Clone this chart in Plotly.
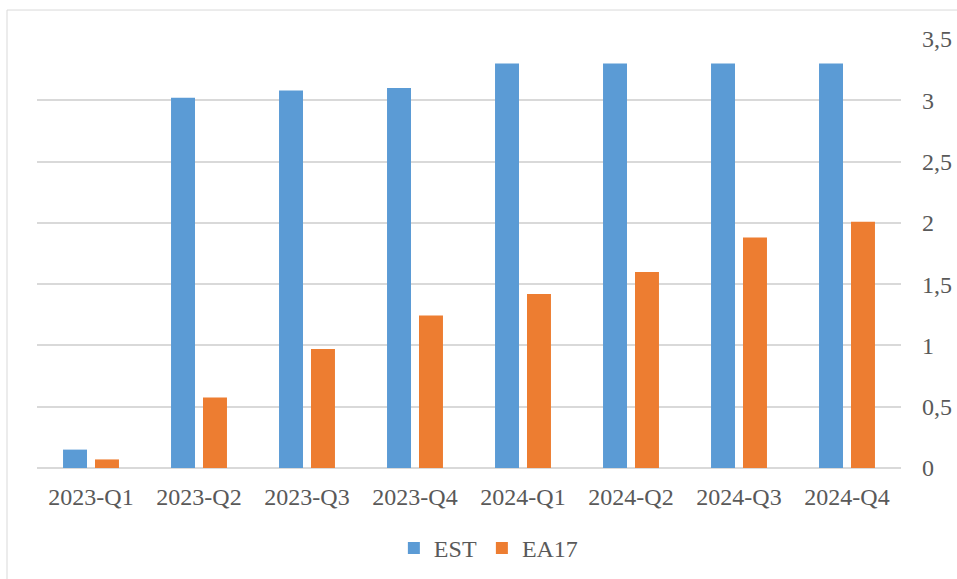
import plotly.graph_objects as go

# Quarterly values for Estonia and the euro area (EA17)
quarters = ["2023-Q1", "2023-Q2", "2023-Q3", "2023-Q4",
            "2024-Q1", "2024-Q2", "2024-Q3", "2024-Q4"]
est_values = [0.15, 3.02, 3.08, 3.10, 3.30, 3.30, 3.30, 3.30]
ea17_values = [0.07, 0.575, 0.97, 1.245, 1.42, 1.60, 1.88, 2.01]

BLUE = "#5B9BD5"
ORANGE = "#ED7D31"
TEXT = "#595959"
GRID = "#D9D9D9"
FONT = "Liberation Serif, Times New Roman, serif"

fig = go.Figure()
fig.add_trace(go.Bar(x=quarters, y=est_values, name="EST",
                     marker=dict(color=BLUE, line=dict(width=0)),
                     width=0.222, offset=-0.259))
fig.add_trace(go.Bar(x=quarters, y=ea17_values, name="EA17",
                     marker=dict(color=ORANGE, line=dict(width=0)),
                     width=0.222, offset=0.037))

# Outer frame of the chart area
fig.add_shape(type="rect", xref="paper", yref="paper",
              x0=(7 - 37) / 864, x1=(965 - 37) / 864,
              y0=(468.5 - 590) / 429.5, y1=(468.5 - 10) / 429.5,
              line=dict(color=GRID, width=1), fillcolor="rgba(0,0,0,0)",
              layer="below")

fig.update_layout(
    width=957, height=579,
    margin=dict(l=37, r=56, t=39, b=110.5, autoexpand=False),
    paper_bgcolor="white", plot_bgcolor="white",
    font=dict(family=FONT, size=24, color=TEXT),
    separators=", ",
    barmode="group",
    showlegend=True,
    legend=dict(orientation="h", x=0.523, xanchor="center",
                y=(468.5 - 549) / 429.5, yanchor="middle",
                font=dict(family=FONT, size=24, color=TEXT),
                itemwidth=30, traceorder="normal"),
    xaxis=dict(showgrid=False, showline=False, zeroline=False,
               ticks="", automargin=False,
               tickfont=dict(family=FONT, size=24, color=TEXT),
               ticklabelstandoff=12),
    yaxis=dict(side="right", range=[0, 3.5], dtick=0.5, tick0=0,
               showgrid=True, gridcolor=GRID, gridwidth=1.5,
               zeroline=True, zerolinecolor=GRID, zerolinewidth=1.5,
               showline=False, ticks="", automargin=False,
               tickfont=dict(family=FONT, size=24, color=TEXT),
               ticklabelstandoff=20),
)

fig.write_html("out.html")
